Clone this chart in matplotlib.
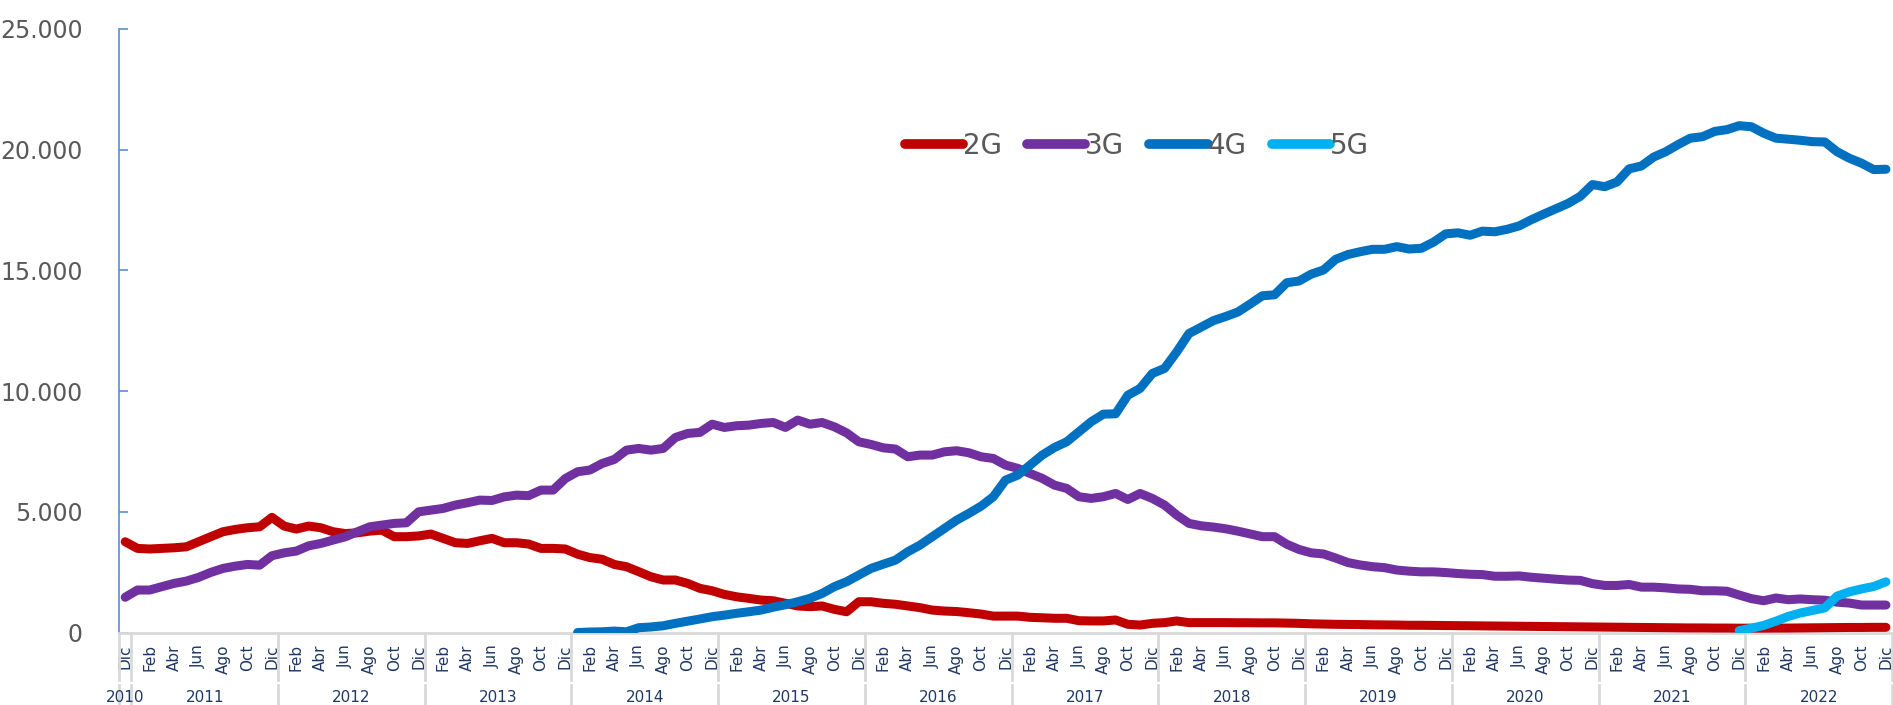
"""
Líneas móviles por tecnología (2G / 3G / 4G / 5G), dic-2010 a dic-2022.
Eje de categorías mensual con agrupación por año debajo.
"""
import numpy as np
import matplotlib.pyplot as plt
from matplotlib.ticker import FuncFormatter

plt.rcParams["font.family"] = ["DejaVu Sans"]

# meses (índice 0 = Dic 2010)
MESES = ["Ene", "Feb", "Mar", "Abr", "May", "Jun", "Jul", "Ago", "Sep", "Oct", "Nov", "Dic"]
ANIOS = list(range(2010, 2023))

dos_g = [
    3760, 3485, 3460, 3485, 3510, 3550, 3760, 3970, 4175, 4270, 4340, 4380,
    4770, 4410, 4285, 4410, 4340, 4175, 4100, 4130, 4200, 4240, 3970, 3970,
    4000, 4080, 3900, 3720, 3690, 3800, 3900, 3720, 3720, 3665, 3485, 3485,
    3460, 3245, 3105, 3035, 2820, 2725, 2520, 2310, 2175, 2175, 2035, 1830,
    1730, 1580, 1480, 1415, 1345, 1315, 1210, 1100, 1070, 1100, 960, 860,
    1275, 1275, 1210, 1170, 1100, 1030, 930, 890, 870, 820, 765, 680,
    680, 680, 630, 610, 590, 590, 490, 480, 480, 520, 340, 310,
    380, 410, 480, 410, 410, 410, 410, 405, 405, 400, 400, 390,
    380, 360, 350, 340, 335, 330, 320, 315, 310, 300, 300, 295,
    290, 285, 280, 275, 270, 265, 260, 255, 250, 245, 240, 235,
    230, 225, 220, 215, 210, 205, 200, 195, 190, 190, 185, 185,
    180, 180, 180, 185, 185, 190, 195, 200, 205, 210, 210, 215, 215,
]

tres_g = [
    1460, 1760, 1760, 1900, 2035, 2130, 2285, 2490, 2655, 2750, 2820, 2790,
    3180, 3300, 3375, 3590, 3690, 3830, 3965, 4175, 4380, 4450, 4520, 4545,
    5000, 5070, 5140, 5280, 5375, 5485, 5470, 5620, 5690, 5670, 5900, 5900,
    6380, 6660, 6730, 7000, 7170, 7555, 7625, 7555, 7625, 8080, 8245, 8290,
    8630, 8495, 8565, 8590, 8660, 8700, 8495, 8800, 8630, 8700, 8520, 8270,
    7900, 7790, 7650, 7600, 7280, 7350, 7350, 7485, 7530, 7445, 7280, 7210,
    6935, 6800, 6590, 6385, 6105, 5970, 5625, 5555, 5625, 5760, 5510, 5760,
    5555, 5280, 4865, 4520, 4420, 4368, 4297, 4198, 4082, 3970, 3970, 3656,
    3440, 3300, 3254, 3084, 2898, 2799, 2728, 2687, 2588, 2542, 2513, 2513,
    2484, 2443, 2414, 2400, 2331, 2331, 2345, 2290, 2248, 2210, 2174, 2160,
    2025, 1950, 1950, 1990, 1880, 1880, 1850, 1805, 1790, 1730, 1730, 1710,
    1552, 1404, 1316, 1430, 1360, 1390, 1360, 1340, 1258, 1220, 1139, 1139, 1139,
]

# 4G desde Ene 2014 (índice 37)
INICIO_4G = 37
cuatro_g = [
    0, 20, 30, 60, 30, 200, 230, 280, 380, 470, 560,
    655, 720, 795, 860, 930, 1050, 1150, 1275, 1415, 1620, 1900, 2105,
    2380, 2655, 2830, 3000, 3345, 3620, 3965, 4310, 4655, 4935, 5235, 5625,
    6315, 6520, 6935, 7350, 7665, 7900, 8315, 8730, 9045, 9060, 9830, 10110,
    10730, 10940, 11625, 12385, 12650, 12920, 13090, 13277, 13605, 13948, 13990, 14490,
    14560, 14846, 15016, 15459, 15657, 15773, 15873, 15873, 15985, 15885, 15915, 16171,
    16514, 16556, 16457, 16627, 16600, 16700, 16842, 17100, 17330, 17550, 17773, 18067,
    18556, 18468, 18660, 19206, 19325, 19694, 19917, 20212, 20477, 20539, 20758, 20832,
    20994, 20950, 20683, 20477, 20435, 20390, 20332, 20320, 19917, 19648, 19441, 19176, 19190,
]

# 5G desde Dic 2021 (índice 132)
INICIO_5G = 132
cinco_g = [80, 180, 295, 470, 665, 810, 915, 1020, 1507, 1685, 1805, 1908, 2100]

SERIES = [
    ("2G", 0, dos_g, "#C00000"),
    ("3G", 0, tres_g, "#7030A0"),
    ("4G", INICIO_4G, cuatro_g, "#0070C0"),
    ("5G", INICIO_5G, cinco_g, "#00B0F0"),
]

n = len(dos_g)
etiquetas = [MESES[(11 + i) % 12] for i in range(n)]

fig = plt.figure(figsize=(18.93, 7.05), dpi=100)
ax = fig.add_axes([0.0629, 0.1028, 0.9366, 0.8561])

for nombre, inicio, valores, color in SERIES:
    x = np.arange(inicio, inicio + len(valores))
    ax.plot(x, valores, color=color, linewidth=6.5, label=nombre,
            solid_joinstyle="round", solid_capstyle="round", zorder=3)

ax.set_xlim(-0.5, n - 0.5)
ax.set_ylim(0, 25000)

# eje Y
ax.set_yticks(range(0, 25001, 5000))
ax.yaxis.set_major_formatter(FuncFormatter(lambda v, p: f"{int(v):,}".replace(",", ".")))
ax.tick_params(axis="y", direction="in", length=6.5, width=1.2, color="#5B8FD0",
               labelsize=17, labelcolor="#595959", pad=26)
ax.spines["left"].set_color("#5B8FD0")
ax.spines["left"].set_linewidth(1.2)
for s in ["top", "right"]:
    ax.spines[s].set_visible(False)
ax.spines["bottom"].set_color("#D9D9D9")
ax.spines["bottom"].set_linewidth(2)

# eje X: meses alternos
pos = list(range(0, n, 2))
ax.set_xticks(pos)
ax.set_xticklabels([etiquetas[i] for i in pos], rotation=90, va="top", ha="center")
ax.tick_params(axis="x", length=0, labelsize=11, labelcolor="#1F3864", pad=8.5)

# separadores de años y etiquetas de año
trans = ax.get_xaxis_transform()
bordes = [-0.5, 0.5] + [0.5 + 12 * k for k in range(1, 13)]
for b in bordes:
    ax.plot([b, b], [0, -0.079], transform=trans, color="#D9D9D9", lw=2, clip_on=False)
    ax.plot([b, b], [-0.087, -0.125], transform=trans, color="#D9D9D9", lw=2, clip_on=False)
for k, anio in enumerate(ANIOS):
    centro = 0 if k == 0 else 12 * k - 5.5
    ax.text(centro, -0.107, str(anio), transform=trans, ha="center", va="center",
            fontsize=11, color="#1F3864")

leg = ax.legend(loc="center", bbox_to_anchor=(0.574, 0.806), ncol=4, frameon=False,
                fontsize=20, handlelength=2.1, handletextpad=0.0, columnspacing=0.9,
                labelcolor="#595959")
for h in leg.get_lines():
    h.set_linewidth(7)
    h.set_solid_capstyle("round")

fig.savefig("out.png", dpi=100)
